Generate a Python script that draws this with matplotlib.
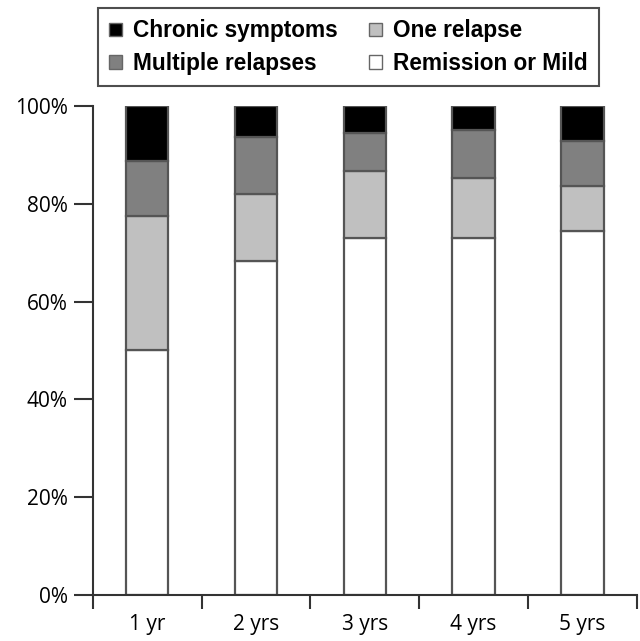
import numpy as np
from matplotlib import pyplot as plt
from matplotlib.patches import Patch

# categories and stacked percentages (bottom to top)
years = ['1 yr', '2 yrs', '3 yrs', '4 yrs', '5 yrs']
remission = [50.1, 68.4, 73.0, 73.0, 74.5]
one_relapse = [27.5, 13.7, 13.8, 12.3, 9.2]
multiple = [11.2, 11.5, 7.7, 9.8, 9.2]
chronic = [11.2, 6.4, 5.5, 4.9, 7.1]

plt.rcParams['font.family'] = ['Open Sans', 'DejaVu Sans']

fig = plt.figure(figsize=(6.4, 6.41), dpi=100)
ax = fig.add_axes([0.145, 0.0718, 0.85, 0.7628])

x = np.arange(len(years))
w = 0.39
edge = '#555555'
cols = ['white', '#c0c0c0', '#808080', 'black']
names = ['Remission or Mild', 'One relapse', 'Multiple relapses', 'Chronic symptoms']
bottom = np.zeros(len(years))
for vals, c in zip([remission, one_relapse, multiple, chronic], cols):
	ax.bar(x, vals, w, bottom=bottom, color=c, edgecolor=edge, linewidth=1.6, zorder=2)
	bottom += np.array(vals)

ax.set_xlim(-0.5, 4.5)
ax.set_ylim(0, 100)
ax.set_yticks([0, 20, 40, 60, 80, 100])
ax.set_yticklabels(['0%', '20%', '40%', '60%', '80%', '100%'], fontsize=15)
ax.tick_params(axis='y', length=14, width=1.5, color='#333333', pad=4)
ax.set_xticks(x)
ax.set_xticklabels(years, fontsize=15)
ax.set_xticks(np.arange(-0.5, 5, 1), minor=True)
ax.tick_params(axis='x', which='major', length=0, pad=14)
ax.tick_params(axis='x', which='minor', length=10, width=1.5, color='#333333')
for s in ['top', 'right']:
	ax.spines[s].set_visible(False)
for s in ['left', 'bottom']:
	ax.spines[s].set_linewidth(1.5)
	ax.spines[s].set_color('#333333')

# legend, column-wise order
handles = [Patch(facecolor=cols[i], edgecolor='#666666', linewidth=1) for i in [3, 2, 1, 0]]
labels = [names[i] for i in [3, 2, 1, 0]]
leg = fig.legend(handles, labels, ncol=2, loc='upper left', bbox_to_anchor=(0.153, 0.9875),
	prop={'family': ['Liberation Sans', 'DejaVu Sans'], 'weight': 'bold', 'size': 16.3},
	handlelength=0.55, handleheight=0.55, handletextpad=0.5, columnspacing=1.4,
	labelspacing=0.42, borderpad=0.5, borderaxespad=0, fancybox=False, frameon=True)
leg.get_frame().set_edgecolor('#222222')
leg.get_frame().set_linewidth(1.5)

plt.savefig('out.png', dpi=100)
